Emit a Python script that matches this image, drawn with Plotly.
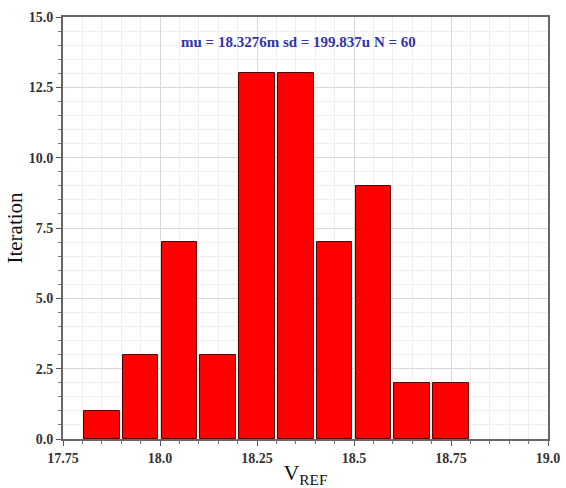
import plotly.graph_objects as go

bin_centers = [17.85, 17.95, 18.05, 18.15, 18.25, 18.35, 18.45, 18.55, 18.65, 18.75]
counts = [1, 3, 7, 3, 13, 13, 7, 9, 2, 2]
x_tick_vals = [17.75, 18.0, 18.25, 18.5, 18.75, 19.0]
x_tick_text = ["17.75", "18.0", "18.25", "18.5", "18.75", "19.0"]
y_tick_vals = [0, 2.5, 5, 7.5, 10, 12.5, 15]
y_tick_text = ["0.0", "2.5", "5.0", "7.5", "10.0", "12.5", "15.0"]
stats_text = "mu = 18.3276m sd = 199.837u N = 60"

fig = go.Figure()
fig.add_trace(go.Bar(
    x=bin_centers, y=counts, width=0.092,
    marker=dict(color="#ff0000", line=dict(color="#5a0000", width=1)),
    showlegend=False,
))

tickfont = dict(family="Liberation Serif", size=14, color="#333333", weight="bold")
fig.update_layout(
    width=566, height=488,
    margin=dict(l=63, r=18, t=17, b=49),
    paper_bgcolor="white", plot_bgcolor="white",
    font=dict(family="Liberation Serif"),
    xaxis=dict(
        range=[17.75, 19.0], tickvals=x_tick_vals, ticktext=x_tick_text,
        tickfont=tickfont, ticks="outside", ticklen=5, tickcolor="#555555",
        showline=True, linecolor="#666666", linewidth=2, mirror=True,
        showgrid=True, gridcolor="#d8d8d8", gridwidth=1, zeroline=False,
        automargin=False,
        minor=dict(dtick=0.05, tick0=17.75, showgrid=True, gridcolor="#efefef",
                   ticks="outside", ticklen=3, tickcolor="#777777"),
        title=dict(text="V<sub>REF</sub>", font=dict(family="Liberation Serif", size=22, color="#111111"), standoff=2),
    ),
    yaxis=dict(
        range=[0, 15], tickvals=y_tick_vals, ticktext=y_tick_text,
        tickfont=tickfont, ticks="outside", ticklen=5, tickcolor="#555555",
        showline=True, linecolor="#666666", linewidth=2, mirror=True,
        showgrid=True, gridcolor="#d8d8d8", gridwidth=1, zeroline=False,
        automargin=False,
        minor=dict(dtick=0.5, tick0=0, showgrid=True, gridcolor="#efefef",
                   ticks="outside", ticklen=3, tickcolor="#777777"),
        title=dict(text="Iteration", font=dict(family="Liberation Serif", size=21, color="#111111"), standoff=0),
    ),
    bargap=0,
)
fig.add_annotation(
    x=0.485, y=0.965, xref="paper", yref="paper", text=stats_text, showarrow=False,
    font=dict(family="Liberation Serif", size=15, color="#3333aa", weight="bold"),
)
fig.write_html("out.html")
